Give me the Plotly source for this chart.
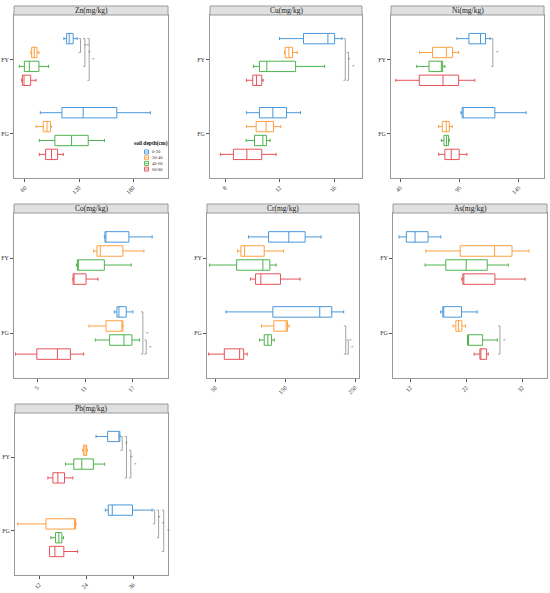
import plotly.graph_objects as go

# depth classes and land-use groups
DEPTHS = ["0-20", "20-40", "40-60", "60-80"]
GROUPS = ["FY", "FG"]
COLORS = ["#4A98DA", "#FFA040", "#4DB34D", "#E5545A"]

# five-number summaries, order: FY 0-20..60-80, then FG 0-20..60-80
ZN_LOW = [103.2, 66.6, 53.7, 56.3, 77.0, 72.2, 75.9, 75.9]
ZN_Q1 = [106.2, 67.4, 59.3, 57.0, 101.0, 80.3, 93.2, 82.9]
ZN_MED = [109.1, 70.3, 64.8, 58.9, 124.6, 84.5, 111.7, 89.5]
ZN_Q3 = [113.5, 73.3, 75.5, 66.3, 162.0, 88.4, 130.2, 96.2]
ZN_HIGH = [118.0, 75.5, 86.2, 72.2, 199.2, 89.2, 148.3, 102.5]

CU_LOW = [11.98, 12.34, 10.07, 9.56, 9.56, 9.56, 9.54, 7.66]
CU_Q1 = [13.73, 12.39, 10.51, 10.02, 10.51, 10.27, 10.15, 8.61]
CU_MED = [15.51, 12.66, 11.05, 10.30, 11.49, 11.00, 10.76, 9.59]
CU_Q3 = [16.00, 12.93, 13.15, 10.68, 12.49, 11.54, 11.02, 10.68]
CU_HIGH = [16.54, 13.27, 15.27, 10.78, 13.51, 12.07, 11.29, 11.73]

NI_LOW = [92.8, 61.3, 58.8, 41.1, 96.1, 77.3, 79.6, 77.3]
NI_Q1 = [102.9, 72.2, 69.2, 61.0, 97.2, 80.4, 81.8, 82.6]
NI_MED = [112.7, 83.8, 79.6, 81.0, 97.8, 83.8, 84.0, 88.0]
NI_Q3 = [116.9, 89.1, 80.7, 94.2, 124.8, 86.3, 85.7, 94.7]
NI_HIGH = [120.8, 94.2, 82.6, 107.9, 151.2, 88.8, 86.3, 101.2]

CO_LOW = [13.42, 12.08, 9.92, 9.50, 14.67, 11.50, 12.29, 2.29]
CO_Q1 = [13.50, 12.50, 10.04, 9.50, 15.00, 13.63, 14.08, 4.96]
CO_MED = [13.58, 12.92, 10.13, 9.55, 15.25, 15.70, 15.88, 7.54]
CO_Q3 = [16.50, 15.75, 13.42, 11.13, 16.17, 15.75, 16.88, 9.17]
CO_HIGH = [19.42, 18.38, 16.79, 12.63, 17.00, 15.75, 17.83, 10.83]

CR_LOW = [97.6, 81.9, 41.9, 100.5, 65.2, 116.2, 113.3, 40.5]
CR_Q1 = [126.2, 86.7, 80.5, 107.6, 132.4, 133.8, 120.0, 62.9]
CR_MED = [155.2, 91.9, 118.1, 115.2, 199.5, 151.4, 125.2, 84.8]
CR_Q3 = [178.6, 120.0, 128.1, 143.3, 216.7, 153.3, 130.5, 90.5]
CR_HIGH = [201.4, 147.6, 137.1, 171.4, 233.8, 155.7, 134.3, 95.7]

AS_LOW = [9.97, 14.75, 14.63, 21.19, 17.43, 19.64, 22.21, 23.40]
AS_Q1 = [11.28, 20.90, 18.33, 21.37, 17.79, 20.12, 22.21, 24.42]
AS_MED = [12.84, 27.04, 21.97, 21.49, 17.97, 20.60, 22.30, 24.54]
AS_Q3 = [15.16, 30.15, 25.73, 27.10, 21.13, 21.19, 24.90, 25.61]
AS_HIGH = [17.43, 33.19, 29.49, 32.48, 23.94, 21.85, 27.52, 25.91]

PB_LOW = [26.5, 23.1, 18.7, 14.2, 28.88, 6.49, 14.97, 14.63]
PB_Q1 = [29.47, 23.28, 20.82, 15.48, 29.64, 13.70, 16.16, 14.63]
PB_MED = [32.40, 23.70, 22.86, 16.75, 30.66, 21.20, 17.00, 16.00]
PB_Q3 = [32.60, 24.10, 25.83, 18.45, 35.83, 21.25, 17.77, 18.28]
PB_HIGH = [32.60, 24.30, 28.70, 20.57, 40.84, 21.41, 18.20, 21.75]

# significance brackets: (group, from depth, to depth, x position, label)
ZN_SIG = [("FY", 0, 1, 121.7, "**"), ("FY", 0, 2, 126.5, "*"), ("FY", 0, 3, 131.3, "*")]
CU_SIG = [("FY", 0, 3, 16.78, "*"), ("FY", 1, 3, 17.02, "*")]
NI_SIG = [("FY", 0, 2, 123.1, "*")]
CO_SIG = [("FG", 0, 3, 18.25, "*"), ("FG", 2, 3, 18.67, "*")]
CR_SIG = [("FG", 1, 3, 236.7, "*"), ("FG", 2, 3, 240.4, "*")]
AS_SIG = [("FG", 1, 3, 28.0, "*")]
PB_SIG = [
    ("FY", 0, 1, 33.2, "*"), ("FY", 0, 3, 34.3, "*"), ("FY", 1, 3, 35.4, "*"),
    ("FG", 0, 1, 41.5, "*"), ("FG", 0, 2, 42.5, "*"), ("FG", 0, 3, 43.8, "*"),
]

ZN_TICKS = [60, 120, 180]
CU_TICKS = [8, 12, 16]
NI_TICKS = [45, 95, 145]
CO_TICKS = [5, 11, 17]
CR_TICKS = [50, 150, 250]
AS_TICKS = [12, 22, 32]
PB_TICKS = [12, 24, 36]

W, H = 550, 593
FONT = "Liberation Serif"
GROUP_POS = {"FY": 2, "FG": 1}
DODGE = 0.1875


def box_y(group: str, depth: int) -> float:
    return GROUP_POS[group] + 1.5 * DODGE - depth * DODGE


def add_panel(fig, n, title, stats, sig, ticks, xrange, px_box):
    low, q1, med, q3, high = stats
    xa, ya = ("x", "y") if n == 1 else (f"x{n}", f"y{n}")
    for d, name in enumerate(DEPTHS):
        idx = [d, d + 4]
        fig.add_trace(
            go.Box(
                orientation="h",
                y=[box_y(g, d) for g in GROUPS],
                q1=[q1[i] for i in idx],
                median=[med[i] for i in idx],
                q3=[q3[i] for i in idx],
                lowerfence=[low[i] for i in idx],
                upperfence=[high[i] for i in idx],
                width=0.14,
                whiskerwidth=0.3,
                boxpoints=False,
                line=dict(color=COLORS[d], width=1),
                fillcolor="rgba(255,255,255,0)",
                name=name,
                showlegend=False,
                hoverinfo="skip",
                xaxis=xa,
                yaxis=ya,
            )
        )

    tip = 0.012 * (xrange[1] - xrange[0])
    for group, d0, d1, x, label in sig:
        y0, y1 = box_y(group, d0), box_y(group, d1)
        fig.add_trace(
            go.Scatter(
                x=[x - tip, x, x, x - tip],
                y=[y0, y0, y1, y1],
                mode="lines",
                line=dict(color="#8C8C8C", width=0.8),
                showlegend=False,
                hoverinfo="skip",
                xaxis=xa,
                yaxis=ya,
            )
        )
        fig.add_annotation(
            x=x + tip * 0.6, y=(y0 + y1) / 2, xref=xa, yref=ya,
            text=label, showarrow=False, xanchor="left",
            font=dict(family=FONT, size=5, color="#555"),
        )

    l, r, t, b = px_box
    axis_common = dict(
        showline=True, mirror=True, linecolor="#9A9A9A", linewidth=1,
        showgrid=False, zeroline=False, ticks="outside", ticklen=3,
        tickcolor="#555", tickwidth=0.8,
        tickfont=dict(family=FONT, size=6, color="#333"),
    )
    fig.update_layout(
        **{
            ("xaxis" if n == 1 else f"xaxis{n}"): dict(
                domain=[l / W, r / W], anchor=ya, range=xrange,
                tickvals=ticks, tickangle=-45, **axis_common,
            ),
            ("yaxis" if n == 1 else f"yaxis{n}"): dict(
                domain=[1 - b / H, 1 - t / H], anchor=xa, range=[0.4, 2.6],
                tickvals=[1, 2], ticktext=["FG", "FY"], **axis_common,
            ),
        }
    )
    # strip header
    fig.add_shape(
        type="rect", xref=f"{xa} domain", yref=f"{ya} domain",
        x0=0, x1=1, y0=1, y1=1 + 9 / (b - t),
        fillcolor="#E0E0E0", line=dict(color="#9A9A9A", width=1),
    )
    fig.add_annotation(
        xref=f"{xa} domain", yref=f"{ya} domain", x=0.5, y=1 + 4.5 / (b - t),
        text=title, showarrow=False, yanchor="middle",
        font=dict(family=FONT, size=7.5, color="#1A1A1A"),
    )


def add_depth_key(fig, left: float, top: float) -> None:
    # compact key drawn inside the Zn panel (plotly legend rows are too tall here)
    fig.add_annotation(
        xref="paper", yref="paper", x=left / W, y=1 - top / H,
        text="<b>soil depth(cm)</b>", showarrow=False,
        xanchor="left", yanchor="middle",
        font=dict(family=FONT, size=5.5, color="#111"),
    )
    for d, name in enumerate(DEPTHS):
        yc = top + 9 + d * 5.7
        x0 = left + 12.5
        fig.add_shape(
            type="rect", xref="paper", yref="paper",
            x0=x0 / W, x1=(x0 + 4) / W, y0=1 - (yc - 2) / H, y1=1 - (yc + 2) / H,
            line=dict(color=COLORS[d], width=0.9), fillcolor="white",
        )
        fig.add_shape(
            type="line", xref="paper", yref="paper",
            x0=x0 / W, x1=(x0 + 4) / W, y0=1 - yc / H, y1=1 - yc / H,
            line=dict(color=COLORS[d], width=0.8),
        )
        fig.add_annotation(
            xref="paper", yref="paper", x=(x0 + 5.5) / W, y=1 - yc / H,
            text=name, showarrow=False, xanchor="left", yanchor="middle",
            font=dict(family=FONT, size=4.5, color="#333"),
        )


def main() -> None:
    fig = go.Figure()
    panels = [
        ("Zn(mg/kg)", (ZN_LOW, ZN_Q1, ZN_MED, ZN_Q3, ZN_HIGH), ZN_SIG, ZN_TICKS,
         [47.8, 218.8], (14, 168, 15, 178)),
        ("Cu(mg/kg)", (CU_LOW, CU_Q1, CU_MED, CU_Q3, CU_HIGH), CU_SIG, CU_TICKS,
         [6.9, 18.0], (210, 362, 15, 178)),
        ("Ni(mg/kg)", (NI_LOW, NI_Q1, NI_MED, NI_Q3, NI_HIGH), NI_SIG, NI_TICKS,
         [37.1, 166.3], (391, 544, 15, 178)),
        ("Co(mg/kg)", (CO_LOW, CO_Q1, CO_MED, CO_Q3, CO_HIGH), CO_SIG, CO_TICKS,
         [2.1, 21.4], (14, 168, 213, 378)),
        ("Cr(mg/kg)", (CR_LOW, CR_Q1, CR_MED, CR_Q3, CR_HIGH), CR_SIG, CR_TICKS,
         [38.1, 255.7], (207, 359, 213, 378)),
        ("As(mg/kg)", (AS_LOW, AS_Q1, AS_MED, AS_Q3, AS_HIGH), AS_SIG, AS_TICKS,
         [8.9, 36.4], (393, 547, 213, 378)),
        ("Pb(mg/kg)", (PB_LOW, PB_Q1, PB_MED, PB_Q3, PB_HIGH), PB_SIG, PB_TICKS,
         [5.8, 44.9], (15, 168, 413, 575)),
    ]
    for n, (title, stats, sig, ticks, xrange, px_box) in enumerate(panels, start=1):
        add_panel(fig, n, title, stats, sig, ticks, xrange, px_box)

    add_depth_key(fig, 132, 143)

    fig.update_layout(
        width=W,
        height=H,
        margin=dict(l=0, r=0, t=0, b=0),
        paper_bgcolor="white",
        plot_bgcolor="white",
        font=dict(family=FONT, size=6, color="#333"),
        showlegend=False,
        hovermode=False,
    )
    # drop the browser's default 8px body margin so the 550x593 figure fits the window
    fig.write_html(
        "out.html",
        config={"displayModeBar": False},
        post_script="document.body.style.margin='0';",
    )


if __name__ == "__main__":
    main()
